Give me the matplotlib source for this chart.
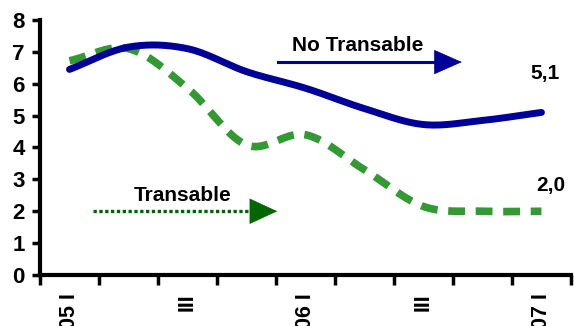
import numpy as np
import matplotlib
matplotlib.use('Agg')
import matplotlib.pyplot as plt

plt.rcParams['font.family'] = ['Liberation Sans', 'DejaVu Sans']
plt.rcParams['font.weight'] = 'bold'

# данные
quarters = ['05 I', '05 II', '05 III', '05 IV', '06 I', '06 II', '06 III', '06 IV', '07 I']
tick_labels = ['05 I', '', 'III', '', '06 I', '', 'III', '', '07 I']
no_transable = [6.45, 7.15, 7.1, 6.38, 5.86, 5.22, 4.72, 4.85, 5.1]
transable = [6.72, 7.1, 5.86, 4.08, 4.4, 3.3, 2.15, 2.0, 2.0]


def smooth(y, n=30):
    # сглаживание в стиле Excel (Catmull-Rom)
    y = np.asarray(y, dtype=float)
    p = np.concatenate([[2 * y[0] - y[1]], y, [2 * y[-1] - y[-2]]])
    xs, ys = [], []
    for i in range(len(y) - 1):
        p0, p1, p2, p3 = p[i], p[i + 1], p[i + 2], p[i + 3]
        t = np.linspace(0, 1, n, endpoint=False)
        yy = 0.5 * ((2 * p1) + (-p0 + p2) * t + (2 * p0 - 5 * p1 + 4 * p2 - p3) * t ** 2
                    + (-p0 + 3 * p1 - 3 * p2 + p3) * t ** 3)
        xs.append(i + t)
        ys.append(yy)
    xs.append([len(y) - 1])
    ys.append([y[-1]])
    return np.concatenate(xs), np.concatenate(ys)


fig = plt.figure(figsize=(5.74, 3.26), dpi=100)
ax = fig.add_axes([0.0697, 0.1564, 0.925, 0.7823])

x = np.arange(len(quarters))
xb, yb = smooth(no_transable)
xg, yg = smooth(transable)

ax.plot(xb, yb, color='#000099', lw=5, solid_capstyle='round', zorder=3)
ax.plot(xg, yg, color='#339933', lw=5.5, linestyle=(0, (2.2, 1.4)), zorder=2)

# подписи и стрелки
ax.text(4.89, 7.21, 'No Transable', fontsize=15, ha='center', va='center')
ax.plot([3.53, 6.2], [6.68, 6.68], color='#000099', lw=2.2)
ax.annotate('', xy=(6.65, 6.68), xytext=(6.18, 6.68),
            arrowprops=dict(arrowstyle='-|>,head_length=0.95,head_width=0.42',
                            mutation_scale=20, color='#000099', lw=0.5,
                            shrinkA=0, shrinkB=0))
ax.text(8.06, 6.33, '5,1', fontsize=15, ha='center', va='center')

ax.text(1.91, 2.48, 'Transable', fontsize=15, ha='center', va='center')
ax.plot([0.40, 3.1], [2.0, 2.0], color='#006600', lw=2.4, linestyle=(0, (1, 0.75)))
ax.annotate('', xy=(3.52, 2.0), xytext=(3.08, 2.0),
            arrowprops=dict(arrowstyle='-|>,head_length=0.95,head_width=0.44',
                            mutation_scale=20, color='#006600', lw=0.5,
                            shrinkA=0, shrinkB=0))
ax.text(8.16, 2.82, '2,0', fontsize=15, ha='center', va='center')

# оси
ax.set_xlim(-0.5, len(quarters) - 0.5)
ax.set_ylim(0, 8)
ax.set_yticks(range(0, 9))
ax.set_xticks(np.arange(-0.5, len(quarters), 1.0))
ax.set_xticklabels([])
ax.set_xticks(x, minor=True)
ax.set_xticklabels(tick_labels, minor=True, rotation=90, fontsize=15.5, fontweight='bold')
ax.tick_params(axis='x', which='minor', length=0, pad=13)
ax.tick_params(axis='x', which='major', length=7, width=2.5, direction='out')
ax.tick_params(axis='y', length=6, width=2.5, direction='out', pad=5, labelsize=16)
for lab in ax.get_yticklabels():
    lab.set_fontweight('bold')

for s in ['top', 'right']:
    ax.spines[s].set_visible(False)
for s in ['left', 'bottom']:
    ax.spines[s].set_linewidth(3)

fig.savefig('out.png', dpi=100)
